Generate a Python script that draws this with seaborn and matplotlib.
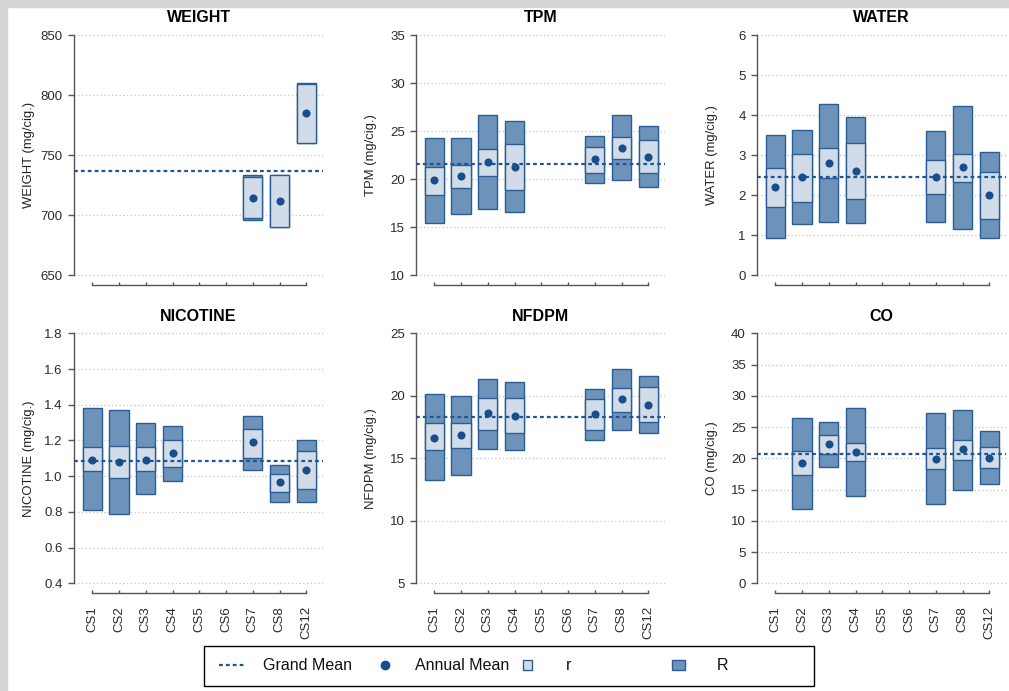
import numpy as np
import seaborn as sns
import matplotlib.pyplot as plt
from matplotlib.lines import Line2D
from matplotlib.patches import Patch, Rectangle

# ---------------------------
# Datos
# ---------------------------
CATS = ["CS1", "CS2", "CS3", "CS4", "CS5", "CS6", "CS7", "CS8", "CS12"]
nan = np.nan

weight_mean = [nan, nan, nan, nan, nan, nan, 713.9, 711.4, 785.0]
weight_r_lo = [nan, nan, nan, nan, nan, nan, 697.2, 689.7, 760.3]
weight_r_hi = [nan, nan, nan, nan, nan, nan, 731.7, 733.6, 809.2]
weight_R_lo = [nan, nan, nan, nan, nan, nan, 695.8, 689.7, 760.3]
weight_R_hi = [nan, nan, nan, nan, nan, nan, 733.6, 733.6, 809.9]
weight_grand = 736.7

tpm_mean = [19.86, 20.35, 21.81, 21.28, nan, nan, 22.05, 23.26, 22.33]
tpm_r_lo = [18.30, 19.10, 20.35, 18.89, nan, nan, 20.66, 22.12, 20.59]
tpm_r_hi = [21.25, 21.49, 23.16, 23.65, nan, nan, 23.37, 24.41, 24.06]
tpm_R_lo = [15.38, 16.32, 16.91, 16.53, nan, nan, 19.62, 19.86, 19.20]
tpm_R_hi = [24.31, 24.31, 26.67, 26.04, nan, nan, 24.48, 26.67, 25.52]
tpm_grand = 21.56

water_mean = [2.20, 2.46, 2.81, 2.61, nan, nan, 2.46, 2.69, 1.99]
water_r_lo = [1.71, 1.83, 2.42, 1.91, nan, nan, 2.02, 2.33, 1.41]
water_r_hi = [2.68, 3.03, 3.18, 3.30, nan, nan, 2.88, 3.03, 2.58]
water_R_lo = [0.92, 1.27, 1.32, 1.29, nan, nan, 1.32, 1.14, 0.92]
water_R_hi = [3.50, 3.63, 4.28, 3.96, nan, nan, 3.60, 4.23, 3.08]
water_grand = 2.45

nic_mean = [1.093, 1.080, 1.093, 1.130, nan, nan, 1.190, 0.966, 1.033]
nic_r_lo = [1.031, 0.988, 1.031, 1.050, nan, nan, 1.104, 0.913, 0.926]
nic_r_hi = [1.165, 1.171, 1.165, 1.205, nan, nan, 1.266, 1.014, 1.139]
nic_R_lo = [0.809, 0.786, 0.902, 0.971, nan, nan, 1.033, 0.857, 0.857]
nic_R_hi = [1.384, 1.369, 1.296, 1.283, nan, nan, 1.339, 1.065, 1.205]
nic_grand = 1.087

nfdpm_mean = [16.65, 16.84, 18.60, 18.36, nan, nan, 18.52, 19.72, 19.24]
nfdpm_r_lo = [15.64, 15.80, 17.29, 17.00, nan, nan, 17.29, 18.73, 17.88]
nfdpm_r_hi = [17.80, 17.80, 19.85, 19.85, nan, nan, 19.75, 20.65, 20.73]
nfdpm_R_lo = [13.24, 13.64, 15.77, 15.64, nan, nan, 16.44, 17.24, 17.03]
nfdpm_R_hi = [20.15, 19.96, 21.37, 21.13, nan, nan, 20.57, 22.17, 21.61]
nfdpm_grand = 18.28

co_mean = [nan, 19.20, 22.35, 21.07, nan, nan, 19.89, 21.44, 20.05]
co_r_lo = [nan, 17.28, 20.64, 19.52, nan, nan, 18.24, 19.73, 18.40]
co_r_hi = [nan, 21.23, 23.79, 22.51, nan, nan, 21.65, 22.99, 21.87]
co_R_lo = [nan, 11.84, 18.56, 13.92, nan, nan, 12.64, 14.88, 15.84]
co_R_hi = [nan, 26.51, 25.87, 28.05, nan, nan, 27.31, 27.79, 24.43]
co_grand = 20.69

PANELS = [
    ("WEIGHT", weight_mean, weight_r_lo, weight_r_hi, weight_R_lo, weight_R_hi, weight_grand,
     np.arange(650, 851, 50), "{:.0f}"),
    ("TPM", tpm_mean, tpm_r_lo, tpm_r_hi, tpm_R_lo, tpm_R_hi, tpm_grand,
     np.arange(10, 36, 5), "{:.0f}"),
    ("WATER", water_mean, water_r_lo, water_r_hi, water_R_lo, water_R_hi, water_grand,
     np.arange(0, 7, 1), "{:.0f}"),
    ("NICOTINE", nic_mean, nic_r_lo, nic_r_hi, nic_R_lo, nic_R_hi, nic_grand,
     np.arange(0.4, 1.81, 0.2), "{:.1f}"),
    ("NFDPM", nfdpm_mean, nfdpm_r_lo, nfdpm_r_hi, nfdpm_R_lo, nfdpm_R_hi, nfdpm_grand,
     np.arange(5, 26, 5), "{:.0f}"),
    ("CO", co_mean, co_r_lo, co_r_hi, co_R_lo, co_R_hi, co_grand,
     np.arange(0, 41, 5), "{:.0f}"),
]

# ---------------------------
# Estilo
# ---------------------------
sns.set_theme(style="white")
plt.rcParams["font.family"] = ["Liberation Sans", "DejaVu Sans"]

DARK = "#6d93ba"
LIGHT = "#d1dce8"
EDGE = "#2a5d96"
POINT = "#174f8c"
GMEAN = "#1f5592"
AXC = "#555555"
TXT = "#2b2b2b"

W, H = 1009, 691
fig = plt.figure(figsize=(W / 100, H / 100), dpi=100)
fig.patch.set_facecolor("white")

# borde gris de la captura
fig.patches.append(Rectangle((0, 1 - 7 / H), 1, 7 / H, transform=fig.transFigure,
                             color="#d4d5d7", zorder=0))
fig.patches.append(Rectangle((0, 0), 7 / W, 1, transform=fig.transFigure,
                             color="#d4d5d7", zorder=0))

lefts = [74, 416, 757]
rows = [(0.5881, 0.3751), (0.1414, 0.3907)]
x = np.arange(len(CATS))

for i, (name, mean, r_lo, r_hi, R_lo, R_hi, grand, ticks, fmt) in enumerate(PANELS):
    row, col = divmod(i, 3)
    bottom, height = rows[row]
    ax = fig.add_axes([lefts[col] / W, bottom, 249 / W, height])

    mean = np.array(mean)
    r_lo, r_hi = np.array(r_lo), np.array(r_hi)
    R_lo, R_hi = np.array(R_lo), np.array(R_hi)

    m = ~np.isnan(R_lo)
    ax.bar(x[m], (R_hi - R_lo)[m], bottom=R_lo[m], width=0.72, color=DARK,
           edgecolor=EDGE, linewidth=1, zorder=2)
    m = ~np.isnan(r_lo)
    ax.bar(x[m], (r_hi - r_lo)[m], bottom=r_lo[m], width=0.72, color=LIGHT,
           edgecolor=EDGE, linewidth=1, zorder=3)
    ax.axhline(grand, color=GMEAN, lw=1.6, ls=(0, (1.7, 1.4)), zorder=5)
    m = ~np.isnan(mean)
    sns.scatterplot(x=x[m], y=mean[m], ax=ax, s=34, color=POINT, edgecolor=POINT,
                    linewidth=0, zorder=6)

    lo, hi = ticks[0], ticks[-1]
    pad = (hi - lo) * 0.04
    ax.set_ylim(lo - pad, hi + pad)
    ax.set_xlim(-0.68, len(CATS) - 1 + 0.62)
    ax.set_yticks(ticks)
    ax.set_yticklabels([fmt.format(t) for t in ticks])
    ax.set_xticks(x)
    ax.set_xticklabels(CATS, rotation=90)

    ax.yaxis.grid(True, color="#c4c4c4", lw=0.9, ls=(0, (1, 2)))
    ax.xaxis.grid(False)
    ax.set_axisbelow(True)

    for s in ["top", "right"]:
        ax.spines[s].set_visible(False)
    ax.spines["left"].set_bounds(lo, hi)
    ax.spines["bottom"].set_bounds(0, len(CATS) - 1)
    for s in ["left", "bottom"]:
        ax.spines[s].set_color(AXC)
        ax.spines[s].set_linewidth(1)

    ax.tick_params(axis="y", direction="out", length=4, width=1, color=AXC,
                   labelsize=9.5, labelcolor=TXT, pad=4, left=True)
    ax.tick_params(axis="x", direction="in", length=2.5, width=1, color=AXC,
                   labelsize=9.5, labelcolor=TXT, pad=9, bottom=True,
                   labelbottom=(row == 1))

    ax.set_title(name, fontsize=11.5, fontweight="bold", color="black", pad=2)
    ax.set_ylabel(f"{name} (mg/cig.)", fontsize=9.4, color="#222222")
    ax.yaxis.set_label_coords(-0.157, 0.5)
    ax.set_xlabel("")

# ---------------------------
# Leyenda
# ---------------------------
FS = 11.5
ly = 1 - 666 / H
items = [
    (Line2D([], [], color=GMEAN, lw=1.6, ls=(0, (1.7, 1.4))), "Grand Mean", 219, 1.69, 0.7, 1.06),
    (Line2D([], [], color=POINT, marker="o", ls="none", markersize=6), "Annual Mean", 377, 1.0, 0.7, 1.375),
    (Patch(facecolor=LIGHT, edgecolor=EDGE, lw=1), "r", 523, 0.56, 0.62, 2.1),
    (Patch(facecolor=DARK, edgecolor=EDGE, lw=1), "R", 672, 0.81, 0.56, 2.0),
]
for handle, label, px, hl, hh, tp in items:
    fig.legend(handles=[handle], labels=[label], loc="center left",
               bbox_to_anchor=(px / W, ly), frameon=False, fontsize=FS,
               borderpad=0, borderaxespad=0, handlelength=hl, handleheight=hh,
               handletextpad=tp, labelcolor="#111111")

fig.patches.append(Rectangle((204 / W, 1 - 686 / H), 610 / W, 40 / H,
                             transform=fig.transFigure, fill=False,
                             edgecolor="black", lw=1, zorder=1))

plt.savefig("out.png", dpi=100)
plt.close()
